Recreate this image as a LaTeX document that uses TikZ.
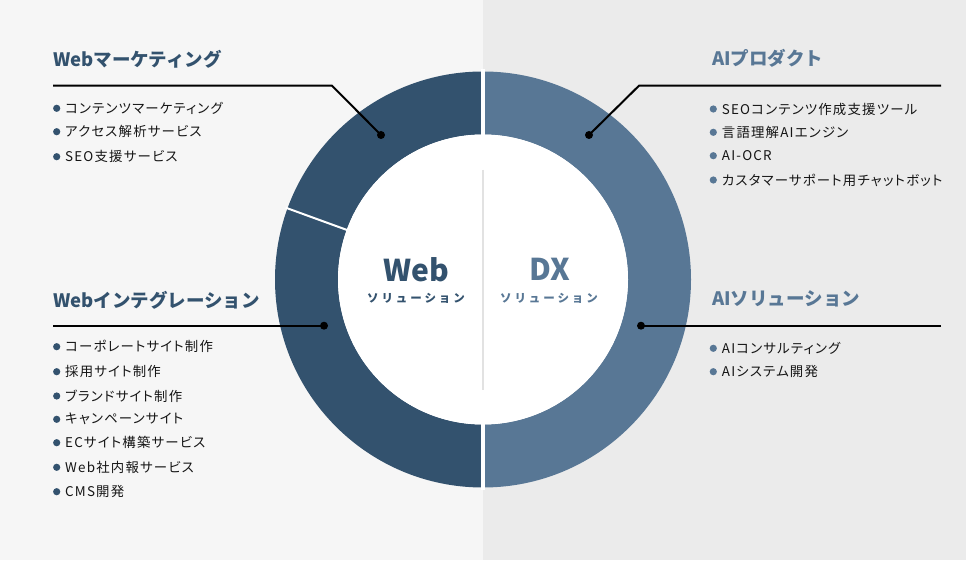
\documentclass[tikz,border=0pt]{standalone}
\usepackage{fontspec}
\usetikzlibrary{calc}
\setmainfont{Noto Sans CJK JP}
\newfontfamily\spacedfont[LetterSpace=25]{Noto Sans CJK JP}
\newfontfamily\itemfont[RawFeature=+palt,LetterSpace=9]{Noto Sans CJK JP}
\definecolor{bgleft}{HTML}{F6F6F6}
\definecolor{bgright}{HTML}{EBEBEB}
\definecolor{ringdark}{HTML}{33526E}
\definecolor{ringlight}{HTML}{587795}
\definecolor{itemtext}{HTML}{151515}
\definecolor{midline}{HTML}{E2E2E2}
\begin{document}
\begin{tikzpicture}[x=1pt,y=1pt,
  heading/.style={anchor=west,inner sep=0pt,font=\fontsize{18.5}{20}\selectfont\bfseries},
  item/.style={anchor=west,inner sep=0pt,text=itemtext,font=\fontsize{13.4}{15}\selectfont\itemfont},
  leader/.style={line width=2pt,black},
  enddot/.style={circle,fill=black,inner sep=0pt,minimum size=8pt},
  bigtitle/.style={inner sep=0pt,font=\fontsize{30}{32}\selectfont\bfseries},
  subtitle/.style={inner sep=0pt,font=\fontsize{11.5}{13}\selectfont\spacedfont\bfseries}]
\useasboundingbox (0,0) rectangle (966,560);
\fill[bgleft] (0,0) rectangle (483,560);
\fill[bgright] (483,0) rectangle (966,560);
% ring
\coordinate (c) at (483,280.5);
\fill[ringdark] (483,488.5) arc[start angle=90,end angle=270,radius=208] -- (483,135.5) arc[start angle=270,end angle=90,radius=145] -- cycle;
\fill[ringlight] (483,488.5) arc[start angle=90,end angle=-90,radius=208] -- (483,135.5) arc[start angle=-90,end angle=90,radius=145] -- cycle;
\fill[white] (c) circle[radius=145];
\draw[white,line width=4pt] (483,70) -- (483,491);
\draw[white,line width=2pt] ($(c)+(160:143)$) -- ($(c)+(160:210)$);
\draw[midline,line width=1.5pt] (483,390) -- (483,170);
% center texts
\node[bigtitle,text=ringdark] (webt) at (416.7,290.7) {Web};
\node[subtitle,text=ringdark] (webs) at (416,261.7) {ソリューション};
\node[bigtitle,text=ringlight] (dxt) at (550,290.7) {DX};
\node[subtitle,text=ringlight] (dxs) at (549,261.7) {ソリューション};
% dots
\node[enddot] (d1) at (381,425) {};
\node[enddot] (d2) at (589,425) {};
\node[enddot] (d3) at (324,234.3) {};
\node[enddot] (d4) at (641,234.3) {};
\coordinate (e1) at (53,474.3);
\coordinate (k1) at (332,474.3);
\coordinate (e2) at (941,474.3);
\coordinate (k2) at (639,474.3);
\coordinate (e3) at (53,234.3);
\coordinate (e4) at (941,234.3);
\draw[leader] (e1) -- (k1) -- (d1.center);
\draw[leader] (e2) -- (k2) -- (d2.center);
\draw[leader] (e3) -- (d3.center);
\draw[leader] (e4) -- (d4.center);
% headings
\node[heading,text=ringdark] (h1) at (53,501) {Webマーケティング};
\node[heading,text=ringdark] (h3) at (53,260) {Webインテグレーション};
\node[heading,text=ringlight] (h2) at (712,502) {AIプロダクト};
\node[heading,text=ringlight] (h4) at (712,261) {AIソリューション};
% items left top
\foreach \y/\t [count=\i] in {451.7/コンテンツマーケティング,428.3/アクセス解析サービス,403.3/SEO支援サービス}{
  \fill[ringdark] (56.7,\y) circle[radius=3.6];
  \node[item] (la\i) at (65,\y) {\t};
}
% items left bottom
\foreach \y/\t [count=\i] in {213.3/コーポレートサイト制作,188.3/採用サイト制作,164/ブランドサイト制作,140.7/キャンペーンサイト,117.3/ECサイト構築サービス,92.7/Web社内報サービス,68.3/CMS開発}{
  \fill[ringdark] (56.7,\y) circle[radius=3.6];
  \node[item] (lb\i) at (65,\y) {\t};
}
% items right top
\foreach \y/\t [count=\i] in {451/SEOコンテンツ作成支援ツール,427.7/言語理解AIエンジン,404.3/AI-OCR,380/カスタマーサポート用チャットボット}{
  \fill[ringlight] (713.3,\y) circle[radius=3.6];
  \node[item] (ra\i) at (721.7,\y) {\t};
}
% items right bottom
\foreach \y/\t [count=\i] in {211.7/AIコンサルティング,188.3/AIシステム開発}{
  \fill[ringlight] (713.3,\y) circle[radius=3.6];
  \node[item] (rb\i) at (721.7,\y) {\t};
}
\end{tikzpicture}
\end{document}
